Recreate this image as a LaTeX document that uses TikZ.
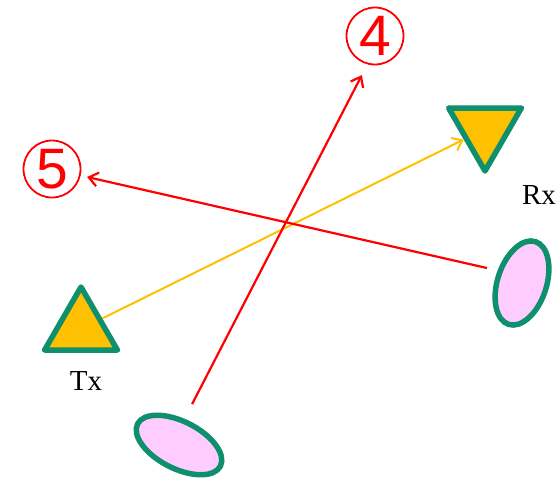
\documentclass[tikz,border=0pt]{standalone}
\usepackage{fontspec}
\setmainfont{Liberation Serif}
\newfontfamily\numfont{Liberation Sans}
\usepackage{xcolor}
\definecolor{Teal}{HTML}{0E8F6D}
\definecolor{Amber}{HTML}{FFC000}
\definecolor{Pink}{HTML}{FFCCFF}
\usetikzlibrary{shapes.geometric,arrows.meta}

\begin{document}
\begin{tikzpicture}[x=1pt,y=-1pt,
 ant/.style={regular polygon,regular polygon sides=3,draw=Teal,fill=Amber,line width=5.5pt,line join=round,minimum size=84pt,inner sep=0pt},
 scat/.style={ellipse,draw=Teal,fill=Pink,line width=5.5pt,inner sep=0pt},
 num/.style={circle,draw=red,text=red,line width=1.8pt,minimum size=57pt,inner sep=0pt,font=\numfont\fontsize{57}{57}\selectfont},
 ray/.style={red,line width=2.2pt,-{Straight Barb[length=9pt,width=14pt]}},
 lbl/.style={anchor=base,font=\fontsize{29}{29}\selectfont}]
\useasboundingbox (0,0) rectangle (559,479);
\node[ant] (tx) at (81,329) {};
\node[ant,shape border rotate=180] (rx) at (485,129) {};
\node[scat,minimum width=93pt,minimum height=47pt,rotate=-27] (e1) at (179,445) {};
\node[scat,minimum width=87pt,minimum height=49pt,rotate=72] (e2) at (522,283) {};
\node[num] (n4) at (375,36) {4};
\node[num] (n5) at (52,169) {5};
\node[lbl] (txl) at (86,390) {Tx};
\node[lbl] (rxl) at (539,204) {Rx};
\draw[Amber,line width=2pt,-{Straight Barb[length=9pt,width=14pt]}] (tx) -- (rx);
\draw[ray,shorten <=46pt,shorten >=44pt] ([xshift=-8pt]e1.center) -- ([xshift=7pt]n4.center);
\draw[ray,shorten <=36pt,shorten >=36pt] ([yshift=7pt]e2.center) -- (n5.center);
\end{tikzpicture}
\end{document}
